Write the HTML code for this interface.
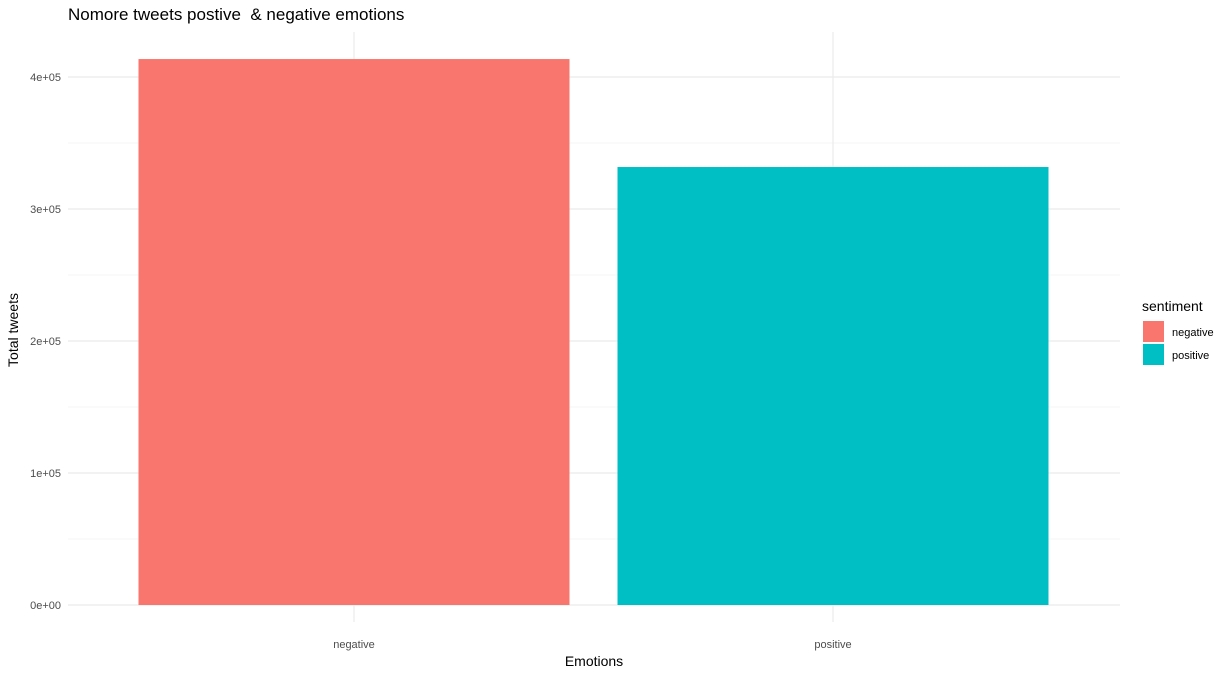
<!DOCTYPE html>
<html><head><meta charset="utf-8"><style>
body{margin:0;background:#fff;font-family:"Liberation Sans",sans-serif}
</style></head><body>
<svg id="c" width="1232" height="677" xmlns="http://www.w3.org/2000/svg">
<text x="68" y="20" font-size="17" fill="#000">Nomore tweets postive &#160;&amp; negative emotions</text>
<g id="grid"></g><g id="bars"></g><g id="ticks"></g>
<text x="594" y="666" font-size="14" text-anchor="middle" fill="#000">Emotions</text>
<text transform="translate(18,330) rotate(-90)" font-size="14" text-anchor="middle" fill="#000">Total tweets</text>
<g>
<text x="1142" y="311" font-size="14" fill="#000">sentiment</text>
<rect x="1143" y="321" width="21" height="21" fill="#F8766D"/>
<text x="1172" y="336" font-size="11" fill="#000">negative</text>
<rect x="1143" y="344" width="21" height="21" fill="#00BFC4"/>
<text x="1172" y="359" font-size="11" fill="#000">positive</text>
</g>
</svg>
<script>
const categories=["negative","positive"];
const values=[413600,331800];
const colors=["#F8766D","#00BFC4"];
const yTicks=[0,100000,200000,300000,400000];
const yTickLabels=["0e+00","1e+05","2e+05","3e+05","4e+05"];
const NS="http://www.w3.org/2000/svg";
const y=v=>605-v*132/100000;
const xc=i=>354+i*479;
const left=68,right=1120;
function mk(t,a,p){const e=document.createElementNS(NS,t);for(const k in a)e.setAttribute(k,a[k]);p.appendChild(e);return e;}
const g=document.getElementById('grid'),b=document.getElementById('bars'),tk=document.getElementById('ticks');
for(let i=0;i<yTicks.length;i++){
 const l=mk('line',{x1:left,x2:right,y1:y(yTicks[i]),y2:y(yTicks[i]),stroke:'#ebebeb','stroke-width':1.2},g);
 
 
 if(i<yTicks.length-1){const m=(yTicks[i]+yTicks[i+1])/2;
  const l2=mk('line',{x1:left,x2:right,y1:y(m),y2:y(m),stroke:'#f3f3f3','stroke-width':0.8},g);
  
  }
 const t=mk('text',{x:61,y:y(yTicks[i])+4,'font-size':11,'text-anchor':'end',fill:'#4d4d4d'},tk);
 t.textContent=yTickLabels[i];
 
 
}
categories.forEach((c,i)=>{
 const v=mk('line',{x1:xc(i),x2:xc(i),y1:32,y2:622,stroke:'#ebebeb','stroke-width':1.2},g);
 
 
 const r=mk('rect',{x:xc(i)-215.5,width:431,y:y(values[i]),height:y(0)-y(values[i]),fill:colors[i]},b);
 
 
 const t=mk('text',{x:xc(i),y:648,'font-size':11,'text-anchor':'middle',fill:'#4d4d4d'},tk);
 t.textContent=c;
 
 
});
</script>
</body></html>
